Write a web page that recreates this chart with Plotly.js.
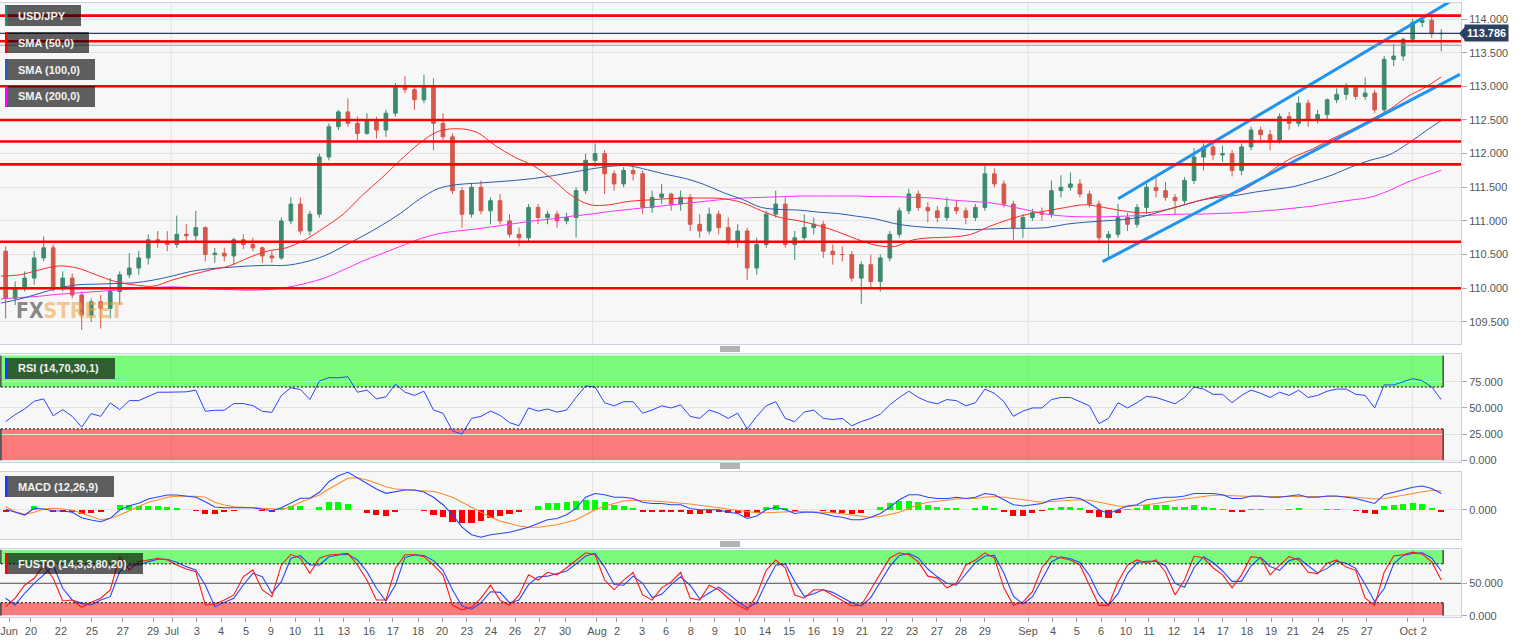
<!DOCTYPE html>
<html><head><meta charset="utf-8">
<script src="https://cdn.plot.ly/plotly-3.0.1.min.js"></script>
<style>html,body{margin:0;padding:0;background:#fff;}#chart{width:1531px;height:643px;}</style>
</head><body><div id="chart"></div>
<script>
// ---------------- DATA (half-day candles, x = trading-day index) ----------------
const openP = [
110.55,109.85,110.0,110.15,110.45,110.6,110.0,110.15,109.9,109.6,
109.8,109.7,109.95,110.2,110.3,110.45,110.72,110.7,110.65,110.8,
110.78,110.9,110.5,110.52,110.48,110.72,110.65,110.6,110.48,110.45,
111.0,111.25,110.85,111.1,111.95,112.4,112.62,112.45,112.3,112.5,
112.35,112.6,113.0,112.95,112.8,113.0,112.45,112.25,111.45,111.1,
111.5,111.15,111.3,111.0,110.8,110.75,111.2,111.05,111.1,111.0,
111.05,111.45,111.9,112.0,111.7,111.55,111.75,111.7,111.2,111.35,
111.4,111.25,111.35,110.95,110.85,111.1,110.9,110.7,110.85,110.3,
110.65,111.1,111.25,110.65,110.75,110.9,110.95,110.55,110.5,110.5,
110.15,110.35,110.1,110.45,110.8,111.15,111.4,111.2,111.15,111.05,
111.2,111.15,111.05,111.2,111.7,111.55,111.25,110.9,111.05,111.12,
111.1,111.45,111.5,111.55,111.4,111.25,110.75,110.8,111.05,110.95,
111.2,111.5,111.45,111.35,111.3,111.6,111.95,112.1,111.98,112.0,
111.75,112.1,112.35,112.28,112.2,112.55,112.45,112.75,112.5,112.58,
112.8,112.88,112.98,112.85,112.9,112.65,113.4,113.45,113.7,113.95,
113.98,113.78];
const highP = [
110.62,110.1,110.25,110.55,110.77,110.65,110.25,110.22,109.95,109.85,
109.9,110.15,110.25,110.52,110.55,110.8,110.85,110.85,111.08,110.95,
111.15,110.92,110.6,110.6,110.75,110.8,110.75,110.62,110.55,111.05,
111.35,111.35,111.15,112.0,112.45,112.65,112.82,112.55,112.6,112.55,
112.65,113.05,113.15,113.0,113.17,113.12,112.6,112.3,111.5,111.55,
111.6,111.35,111.4,111.1,110.9,111.25,111.25,111.15,111.15,111.12,
111.5,112.0,112.15,112.05,111.75,111.8,111.85,111.75,111.45,111.55,
111.42,111.45,111.4,111.1,111.2,111.15,111.05,110.95,110.9,110.75,
111.15,111.45,111.35,110.85,111.1,111.05,111.0,110.65,110.62,110.55,
110.4,110.5,110.5,110.85,111.2,111.48,111.45,111.28,111.22,111.35,
111.3,111.2,111.25,111.82,111.78,111.6,111.3,111.1,111.18,111.2,
111.6,111.68,111.72,111.62,111.45,111.3,110.85,111.25,111.12,111.25,
111.55,111.65,111.58,111.4,111.65,112.08,112.15,112.15,112.12,112.05,
112.15,112.4,112.4,112.35,112.6,112.62,112.85,112.8,112.65,112.82,
112.97,113.05,113.02,113.13,112.95,113.45,113.63,113.72,114.0,114.06,
114.05,113.85];
const lowP = [
109.55,109.75,109.95,110.05,110.4,109.95,109.95,109.85,109.38,109.5,
109.4,109.55,109.75,110.15,110.2,110.35,110.6,110.55,110.6,110.68,
110.7,110.4,110.38,110.4,110.35,110.58,110.55,110.38,110.38,110.42,
110.95,110.8,110.78,111.05,111.9,112.35,112.4,112.2,112.28,112.22,
112.25,112.55,112.9,112.65,112.75,112.05,112.2,111.4,110.9,111.05,
111.1,110.95,110.95,110.75,110.62,110.7,110.95,110.95,110.9,110.95,
110.75,111.4,111.8,111.4,111.45,111.5,111.6,111.1,111.12,111.25,
111.15,111.15,110.85,110.75,110.8,110.8,110.65,110.6,110.12,110.2,
110.6,111.05,110.6,110.42,110.7,110.8,110.45,110.35,110.4,110.1,
109.77,110.0,109.95,110.4,110.75,111.1,111.15,110.98,110.98,111.0,
111.1,110.95,111.0,111.15,111.5,111.2,110.72,110.75,111.0,111.0,
111.05,111.35,111.45,111.35,111.2,110.7,110.42,110.75,110.85,110.9,
111.1,111.35,111.3,111.1,111.25,111.55,111.75,111.9,111.88,111.66,
111.68,112.05,112.2,112.05,112.15,112.35,112.4,112.4,112.45,112.5,
112.75,112.8,112.8,112.8,112.6,112.6,113.3,113.38,113.65,113.88,
113.72,113.52];
const closeP = [
109.85,110.0,110.15,110.45,110.6,110.0,110.15,109.9,109.6,109.8,
109.7,109.95,110.2,110.3,110.45,110.72,110.7,110.65,110.8,110.78,
110.9,110.5,110.52,110.48,110.72,110.65,110.6,110.48,110.45,111.0,
111.25,110.85,111.1,111.95,112.4,112.62,112.45,112.3,112.5,112.35,
112.6,113.0,112.95,112.8,113.0,112.45,112.25,111.45,111.1,111.5,
111.15,111.3,111.0,110.8,110.75,111.2,111.05,111.1,111.0,111.05,
111.45,111.9,112.0,111.7,111.55,111.75,111.7,111.2,111.35,111.4,
111.25,111.35,110.95,110.85,111.1,110.9,110.7,110.85,110.3,110.65,
111.1,111.25,110.65,110.75,110.9,110.95,110.55,110.5,110.5,110.15,
110.35,110.1,110.45,110.8,111.15,111.4,111.2,111.15,111.05,111.2,
111.15,111.05,111.2,111.7,111.55,111.25,110.9,111.05,111.12,111.1,
111.45,111.5,111.55,111.4,111.25,110.75,110.8,111.05,110.95,111.2,
111.5,111.45,111.35,111.3,111.6,111.95,112.1,111.98,112.0,111.75,
112.1,112.35,112.28,112.2,112.55,112.45,112.75,112.5,112.58,112.8,
112.88,112.98,112.85,112.9,112.65,113.4,113.45,113.7,113.95,113.98,
113.78,113.786];

// daily SMA readings (one per trading day, last = final candle)
const sma50 = [
110.18,110.2,110.27,110.33,110.3,110.2,110.1,110.05,110.03,110.12,
110.2,110.27,110.33,110.45,110.55,110.6,110.72,110.9,111.1,111.38,
111.63,111.9,112.15,112.33,112.37,112.32,112.12,111.95,111.82,111.62,
111.38,111.24,111.24,111.29,111.31,111.33,111.34,111.34,111.33,111.27,
111.15,111.05,111.0,110.93,110.84,110.73,110.64,110.62,110.72,110.75,
110.76,110.8,110.92,111.02,111.1,111.15,111.2,111.24,111.2,111.15,
111.12,111.15,111.22,111.3,111.37,111.42,111.57,111.78,111.95,112.07,
112.22,112.35,112.5,112.65,112.85,113.0,113.14];
const sma100 = [
109.78,109.84,109.92,110.0,110.05,110.06,110.07,110.08,110.12,110.18,
110.25,110.29,110.31,110.33,110.34,110.34,110.39,110.48,110.62,110.77,
110.93,111.11,111.32,111.48,111.54,111.56,111.58,111.6,111.63,111.67,
111.72,111.77,111.81,111.82,111.76,111.69,111.63,111.54,111.42,111.32,
111.2,111.17,111.16,111.13,111.11,111.07,111.03,110.96,110.92,110.9,
110.89,110.87,110.88,110.89,110.89,110.9,110.95,110.98,111.0,111.02,
111.06,111.14,111.22,111.3,111.35,111.38,111.43,111.47,111.51,111.59,
111.68,111.8,111.9,111.98,112.15,112.35,112.49];
const sma200 = [
109.84,109.86,109.88,109.91,109.93,109.95,109.97,109.99,110.01,110.02,
110.01,109.99,109.98,109.97,109.98,110.01,110.07,110.15,110.27,110.4,
110.51,110.62,110.73,110.81,110.85,110.88,110.92,110.96,111.0,111.03,
111.07,111.1,111.14,111.17,111.2,111.23,111.26,111.29,111.32,111.34,
111.35,111.36,111.37,111.37,111.37,111.37,111.36,111.36,111.35,111.34,
111.31,111.29,111.27,111.22,111.16,111.1,111.07,111.06,111.06,111.07,
111.08,111.09,111.1,111.1,111.11,111.12,111.14,111.16,111.19,111.22,
111.27,111.31,111.35,111.45,111.58,111.68,111.75];

const rsi = [
37,43.6,49,56.4,58.7,42.6,48.4,42,31.7,44.6,
42,54.8,48.4,57,57,61.2,65,65,65,65.4,
67,46.8,47.8,47.8,54.2,54.2,52.2,46.8,45.8,61.9,
69.2,67.6,58,75.6,79,78.8,79.8,65,67,58.7,
60.6,72.8,65,62,66,48,45,28,25,40,
42,47,43,36,33,50,47,49,46,48,
60,71,70,55,52,56,56,45,48,52,
50,53,42,40,48,45,40,45,30,42,
52,56,40,37,46,48,40,39,40,33,
37,40,44,53,60,66,60,56,54,58,
57,52,55,68,64,56,42,47,50,50,
58,60,60,56,52,35,40,55,50,55,
61,60,57,54,60,70,68,63,63,55,
62,67,64,60,65,62,67,60,62,66,
68,68,63,62,50,72,72,75,78,76,
70,58];
const macd = [
0.003,-0.021,-0.043,0.011,0.005,-0.008,-0.011,-0.021,-0.064,-0.083,
-0.096,-0.069,-0.003,0.032,0.051,0.085,0.104,0.117,0.117,0.109,
0.099,0.064,0.021,0.016,0.016,0.016,0.016,0.003,-0.008,0.016,
0.051,0.091,0.091,0.139,0.224,0.272,0.299,0.256,0.211,0.165,
0.131,0.144,0.158,0.158,0.142,0.10,0.04,-0.04,-0.14,-0.20,
-0.22,-0.20,-0.19,-0.18,-0.16,-0.14,-0.11,-0.08,-0.07,-0.04,
0.01,0.10,0.13,0.12,0.10,0.10,0.09,0.06,0.05,0.05,
0.04,0.04,0.01,0,0,0,-0.02,-0.03,-0.07,-0.05,
0.0,0.02,0,-0.03,-0.02,-0.02,-0.03,-0.05,-0.06,-0.08,
-0.08,-0.06,-0.03,0.02,0.08,0.12,0.12,0.10,0.09,0.09,
0.10,0.09,0.10,0.13,0.12,0.08,0.04,0.03,0.04,0.05,
0.08,0.09,0.10,0.09,0.05,0,-0.03,0,0.03,0.04,
0.08,0.09,0.10,0.10,0.11,0.13,0.13,0.13,0.12,0.09,
0.09,0.11,0.11,0.10,0.10,0.11,0.12,0.10,0.10,0.11,
0.11,0.10,0.09,0.07,0.05,0.12,0.14,0.16,0.18,0.19,
0.17,0.13];
const macdSignal = [
0.024,-0.016,-0.037,-0.021,0.005,0.011,0.005,-0.005,-0.029,-0.056,
-0.080,-0.069,-0.043,-0.008,0.024,0.059,0.077,0.099,0.107,0.109,
0.107,0.099,0.059,0.037,0.024,0.019,0.016,0.013,0.008,0.0,
0.024,0.059,0.091,0.117,0.165,0.211,0.251,0.256,0.237,0.211,
0.184,0.165,0.16,0.16,0.155,0.145,0.125,0.10,0.06,0.02,
-0.02,-0.06,-0.09,-0.11,-0.13,-0.14,-0.14,-0.13,-0.12,-0.10,
-0.08,-0.04,0.0,0.03,0.05,0.07,0.075,0.075,0.07,0.065,
0.06,0.055,0.045,0.035,0.025,0.02,0.01,0.0,-0.015,-0.025,
-0.025,-0.02,-0.015,-0.015,-0.015,-0.015,-0.02,-0.025,-0.035,-0.045,
-0.055,-0.06,-0.055,-0.04,-0.02,0.01,0.04,0.06,0.07,0.08,
0.085,0.09,0.09,0.10,0.105,0.10,0.09,0.08,0.07,0.06,
0.065,0.07,0.075,0.08,0.075,0.06,0.04,0.03,0.025,0.03,
0.04,0.05,0.065,0.075,0.085,0.095,0.105,0.115,0.115,0.11,
0.105,0.105,0.105,0.105,0.105,0.105,0.105,0.105,0.105,0.105,
0.107,0.105,0.10,0.095,0.085,0.09,0.10,0.115,0.13,0.145,
0.155,0.15];
const macdHist = [
-0.021,-0.005,-0.006,0.032,0.0,-0.019,-0.016,-0.016,-0.035,-0.027,
-0.016,0.0,0.04,0.04,0.027,0.026,0.027,0.018,0.01,0.0,
-0.008,-0.035,-0.038,-0.021,-0.008,-0.003,0.0,-0.01,-0.016,0.016,
0.027,0.032,0.0,0.022,0.059,0.061,0.048,0.0,-0.026,-0.046,
-0.053,-0.021,-0.002,-0.002,-0.013,-0.045,-0.06,-0.1,-0.11,-0.11,
-0.09,-0.07,-0.05,-0.035,-0.015,0.0,0.03,0.05,0.05,0.06,
0.07,0.08,0.08,0.06,0.04,0.03,0.015,-0.015,-0.02,-0.015,
-0.02,-0.015,-0.035,-0.035,-0.025,-0.02,-0.03,-0.03,-0.055,-0.025,
0.025,0.04,0.015,-0.015,-0.005,-0.005,-0.01,-0.025,-0.025,-0.035,
-0.025,0.0,0.025,0.05,0.07,0.07,0.06,0.04,0.02,0.01,
0.015,0.0,0.01,0.03,0.015,-0.02,-0.05,-0.05,-0.03,-0.01,
0.015,0.02,0.025,0.01,-0.025,-0.06,-0.07,-0.03,0.005,0.01,
0.04,0.04,0.035,0.025,0.025,0.035,0.025,0.015,0.005,-0.02,
-0.015,0.005,0.005,-0.005,-0.005,0.005,0.015,-0.005,-0.005,0.005,
0.003,-0.005,-0.01,-0.025,-0.035,0.03,0.04,0.045,0.05,0.045,
0.015,-0.02];
const stochK = [
14,27,47,57.7,78,57.7,22.7,24.3,13,20.7,
26.9,39.7,91,70.6,83.4,86,88.6,86,78.3,72.1,
68,16.6,17.6,24.3,32,60.3,70.6,39.7,29.4,78.3,
94.7,88.6,65.4,88.6,93.7,94.7,96.3,78.3,55,24.3,
24.3,73,94,94,91,78,63,16,9,13,
27,47,24,16,32,63,55,67,63,74,
86,97,94,55,40,55,67,32,24,43,
52,67,27,24,47,40,27,16,9,32,
70,86,74,32,27,40,40,32,24,15,
16,40,63,89,97,94,83,61,58,43,
50,78,86,97,89,43,16,21,37,74,
92,89,86,78,47,16,16,52,78,86,
81,86,67,32,55,92,89,74,63,43,
63,91,89,63,78,91,86,67,65,81,
86,75,70,27,16,67,92,94,98,95,
83,55];
const stochD = [
27,16.6,34.6,50,62.9,78.3,42.3,24.3,19,16.6,
24.3,29.4,68,78.3,78.3,83.4,87,87,82.4,75.7,
70.6,47.4,14,20.7,26.9,47.4,65.4,60.3,34.6,52.6,
88.6,92.7,78.3,78.3,91,93.7,94.7,86,68,42.3,
22.7,47.4,90,94,93,85,70,40,15,10,
20,37,36,20,24,48,60,61,65,69,
80,92,96,75,48,47,61,50,28,33,
48,60,47,26,35,44,34,22,12,20,
51,78,80,53,30,34,40,36,28,20,
15,28,52,76,93,96,89,72,60,50,
47,64,82,92,93,66,30,18,29,56,
83,91,88,82,62,32,16,34,65,82,
84,84,77,50,44,74,91,82,69,53,
53,77,90,76,70,85,89,77,66,73,
84,81,73,48,22,42,80,93,96,97,
89,69];

const levelLines = [114.05, 113.67, 113.0, 112.5, 112.18, 111.84, 110.69, 110.0];
const lastPrice = 113.786;
const refLine = 113.61;
const channelUpperDays = [58.76, 76.4],  channelUpperPrices = [111.33, 114.29];
const channelLowerDays = [57.94, 76.73], channelLowerPrices = [110.394, 113.178];

const tickLabels = ['Jun','20','22','25','27','29','Jul','3','4','5','9','10','11','13','16','17','18','20','23','24','26','27','30','Aug','2','3','6','8','9','10','14','15','16','19','21','22','23','27','28','29','Sep','4','5','6','10','11','12','14','17','18','19','21','24','25','27','Oct','2'];
const tickDays = [0.43,1.58,3.16,4.79,6.42,8.0,9.0,10.31,11.58,12.89,14.2,15.47,16.73,18.04,19.36,20.62,21.94,23.2,24.51,25.77,27.04,28.35,29.67,31.35,32.4,33.72,34.98,36.29,37.55,38.87,40.18,41.45,42.76,44.02,45.29,46.6,47.92,49.23,50.49,51.75,54.02,55.33,56.59,57.86,59.17,60.38,61.7,63.01,64.27,65.53,66.8,67.95,69.27,70.58,71.84,74.0,74.84];
const monthStartDays = [8.96, 31.12, 54.03, 74.23];

// ---------------- BUILD ----------------
const candleX = closeP.map((_, i) => i * 0.5 + 0.25);
const lastX = candleX[candleX.length - 1];
const smaX = sma50.map((_, i) => (i < sma50.length - 1 ? i : lastX));
const zoneEnd = lastX + 0.1;

const PW = 1461, PT = 3, PB = 617, PH = PB - PT;
const px = p => p / PW;
const py = p => (PB - p) / PH;

const GREEN = '#3d8b6f', RED = '#d5584b';
const traces = [
  {type:'candlestick', x:candleX, open:openP, high:highP, low:lowP, close:closeP, xaxis:'x', yaxis:'y',
   increasing:{line:{color:GREEN, width:1}, fillcolor:GREEN},
   decreasing:{line:{color:RED, width:1}, fillcolor:RED}, whiskerwidth:0, hoverinfo:'skip'},
  {type:'scatter', mode:'lines', x:smaX, y:sma200, line:{color:'#ff30ff', width:1, shape:'spline'}, xaxis:'x', yaxis:'y'},
  {type:'scatter', mode:'lines', x:smaX, y:sma100, line:{color:'#2b5cb0', width:1, shape:'spline'}, xaxis:'x', yaxis:'y'},
  {type:'scatter', mode:'lines', x:smaX, y:sma50, line:{color:'#ff2a2a', width:1, shape:'spline'}, xaxis:'x', yaxis:'y'},
  {type:'scatter', mode:'lines', x:channelUpperDays, y:channelUpperPrices, line:{color:'#1e93f0', width:3}, xaxis:'x', yaxis:'y'},
  {type:'scatter', mode:'lines', x:channelLowerDays, y:channelLowerPrices, line:{color:'#1e93f0', width:3}, xaxis:'x', yaxis:'y'},
  {type:'scatter', mode:'lines', x:candleX, y:rsi, line:{color:'#2a45ff', width:1}, xaxis:'x2', yaxis:'y2'},
  {type:'bar', x:candleX, y:macdHist, width:0.32, marker:{color:macdHist.map(v => v >= 0 ? '#00ff00' : '#ff0000'), line:{width:0}}, xaxis:'x3', yaxis:'y3'},
  {type:'scatter', mode:'lines', x:candleX, y:macdSignal, line:{color:'#ff8a2a', width:1.1}, xaxis:'x3', yaxis:'y3'},
  {type:'scatter', mode:'lines', x:candleX, y:macd, line:{color:'#2a45ff', width:1.1}, xaxis:'x3', yaxis:'y3'},
  {type:'scatter', mode:'lines', x:candleX, y:stochD, line:{color:'#2a45ff', width:1.1}, xaxis:'x4', yaxis:'y4'},
  {type:'scatter', mode:'lines', x:candleX, y:stochK, line:{color:'#ff1a1a', width:1.1}, xaxis:'x4', yaxis:'y4'}
];

const shapes = [];
['','2','3','4'].forEach(s => {
  monthStartDays.forEach(d => shapes.push({type:'line', xref:'x'+s, yref:'y'+s+' domain', x0:d, x1:d, y0:0, y1:1, line:{color:'#e2e2e2', width:1}, layer:'below'}));
});
levelLines.forEach(v => shapes.push({type:'line', xref:'x domain', yref:'y', x0:0, x1:1, y0:v, y1:v, line:{color:'#ff0000', width:2.6}}));
shapes.push({type:'line', xref:'x domain', yref:'y', x0:0, x1:1, y0:lastPrice, y1:lastPrice, line:{color:'#2b3f5f', width:1.2}});
shapes.push({type:'line', xref:'x domain', yref:'y', x0:0, x1:1, y0:refLine, y1:refLine, line:{color:'#9a9a9a', width:1}});
function zones(ax, lo, hi, top) {
  const xr = 'x' + ax, yr = 'y' + ax;
  shapes.push({type:'rect', xref:xr, yref:yr, x0:0, x1:zoneEnd, y0:hi, y1:top, fillcolor:'rgba(0,255,0,0.5)', line:{width:0}, layer:'below'});
  shapes.push({type:'rect', xref:xr, yref:yr, x0:0, x1:zoneEnd, y0:0, y1:lo, fillcolor:'rgba(255,0,0,0.5)', line:{width:0}, layer:'below'});
  [hi, lo].forEach(v => shapes.push({type:'line', xref:xr, yref:yr, x0:0, x1:zoneEnd, y0:v, y1:v, line:{color:'#000', width:1, dash:'2px,2px'}}));
  [0, zoneEnd].forEach(x => {
    shapes.push({type:'line', xref:xr, yref:yr, x0:x, x1:x, y0:hi, y1:top, line:{color:'#000', width:1}});
    shapes.push({type:'line', xref:xr, yref:yr, x0:x, x1:x, y0:0, y1:lo, line:{color:'#000', width:1}});
  });
}
zones('2', 30, 70, 100);
zones('4', 20, 80, 101.5);
shapes.push({type:'line', xref:'x4 domain', yref:'y4', x0:0, x1:1, y0:50, y1:50, line:{color:'#555', width:1}});
[349, 466, 544].forEach(c => [-2, 0, 2].forEach(o => shapes.push({type:'line', xref:'paper', yref:'paper', x0:px(720), x1:px(740), y0:py(c+o), y1:py(c+o), line:{color:'#666', width:1}})));

const boxes = [
  {x0:5, x1:81, y0:5, y1:26, bar:'#2e8b6e', text:'USD/JPY'},
  {x0:5, x1:89, y0:32, y1:53, bar:'#ff0000', text:'SMA (50,0)'},
  {x0:5, x1:95, y0:59, y1:80, bar:'#1f5fbf', text:'SMA (100,0)'},
  {x0:5, x1:95, y0:86, y1:107, bar:'#ff00ff', text:'SMA (200,0)'},
  {x0:5, x1:115, y0:358, y1:379, bar:'#1a3cff', text:'RSI (14,70,30,1)'},
  {x0:5, x1:114, y0:476, y1:497, bar:'#1a3cff', text:'MACD (12,26,9)'},
  {x0:5, x1:143, y0:553, y1:574, bar:'#ff0000', text:'FUSTO (14,3,3,80,20)'}
];
const annotations = [];
boxes.forEach(b => {
  shapes.push({type:'rect', xref:'paper', yref:'paper', x0:px(b.x0), x1:px(b.x1), y0:py(b.y1), y1:py(b.y0), fillcolor:'rgba(0,0,0,0.62)', line:{width:0}});
  shapes.push({type:'rect', xref:'paper', yref:'paper', x0:px(b.x0), x1:px(b.x0 + 2.5), y0:py(b.y1), y1:py(b.y0), fillcolor:b.bar, line:{width:0}});
  annotations.push({xref:'paper', yref:'paper', x:px(16), y:py((b.y0 + b.y1) / 2), xanchor:'left', yanchor:'middle', showarrow:false,
    text:'<b>' + b.text + '</b>', font:{color:'#f2f2f2', size:11, family:'Liberation Sans, Arial, sans-serif'}});
});
// price tag with pointer
shapes.push({type:'path', xref:'paper', yref:'y', path:'M ' + px(1459) + ' ' + lastPrice + ' L ' + px(1465) + ' ' + (lastPrice + 0.1) + ' L ' + px(1465) + ' ' + (lastPrice - 0.1) + ' Z', fillcolor:'#2c4060', line:{width:0}});
annotations.push({xref:'paper', yref:'y', x:px(1464), y:lastPrice, xanchor:'left', yanchor:'middle', showarrow:false,
  text:'<b>' + lastPrice.toFixed(3) + '</b>', bgcolor:'#2c4060', borderpad:2, font:{color:'#fff', size:11, family:'Liberation Sans, Arial, sans-serif'}});
annotations.push({xref:'paper', yref:'paper', x:px(14), y:py(311), xanchor:'left', yanchor:'middle', showarrow:false,
  text:'<b><span style="color:rgba(105,105,105,0.8)">FX</span><span style="color:rgba(240,165,70,0.6)">STREET</span></b>',
  font:{size:21, family:'Liberation Sans Narrow, DejaVu Sans Condensed, Liberation Sans, sans-serif'}});

const AXLINE = '#c9d1e2';
const baseX = {showgrid:false, zeroline:false, showline:true, mirror:true, linecolor:AXLINE, showticklabels:false, ticks:''};
const baseY = {side:'right', showline:true, mirror:true, linecolor:AXLINE, zeroline:false, gridcolor:'#e4e4e4', ticks:'outside', ticklen:5, tickcolor:'#aaa', tickformat:'.3f', tickfont:{size:11, color:'#555'}, fixedrange:true};
const layout = {
  width:1531, height:643, margin:{l:0, r:70, t:PT, b:643 - PB},
  paper_bgcolor:'#ffffff', plot_bgcolor:'#f7f7f7', showlegend:false, hovermode:false,
  font:{family:'Liberation Sans, Arial, sans-serif', size:11, color:'#555'},
  boxgap:0.45, bargap:0,
  xaxis:Object.assign({}, baseX, {anchor:'y', range:[-0.047, 76.79], rangeslider:{visible:false}}),
  xaxis2:Object.assign({}, baseX, {anchor:'y2', matches:'x'}),
  xaxis3:Object.assign({}, baseX, {anchor:'y3', matches:'x'}),
  xaxis4:Object.assign({}, baseX, {anchor:'y4', matches:'x', showticklabels:true, tickvals:tickDays, ticktext:tickLabels, ticks:'outside', ticklen:4, tickcolor:'#999', tickfont:{size:11, color:'#555'}, ticklabeloverflow:'allow'}),
  yaxis:Object.assign({}, baseY, {domain:[py(344), 1], anchor:'x', range:[109.171, 114.238], tickvals:[109.5,110,110.5,111,111.5,112,112.5,113,113.5,114]}),
  yaxis2:Object.assign({}, baseY, {domain:[py(462), py(354)], anchor:'x2', range:[-1.6, 101.5], tickvals:[0,25,50,75]}),
  yaxis3:Object.assign({}, baseY, {domain:[py(539.3), py(472)], anchor:'x3', range:[-0.2368, 0.3016], tickvals:[0]}),
  yaxis4:Object.assign({}, baseY, {domain:[0, py(549)], anchor:'x4', range:[-2, 102.9], tickvals:[0,50]}),
  shapes:shapes, annotations:annotations
};
Plotly.newPlot('chart', traces, layout, {displayModeBar:false, staticPlot:true});
</script></body></html>
